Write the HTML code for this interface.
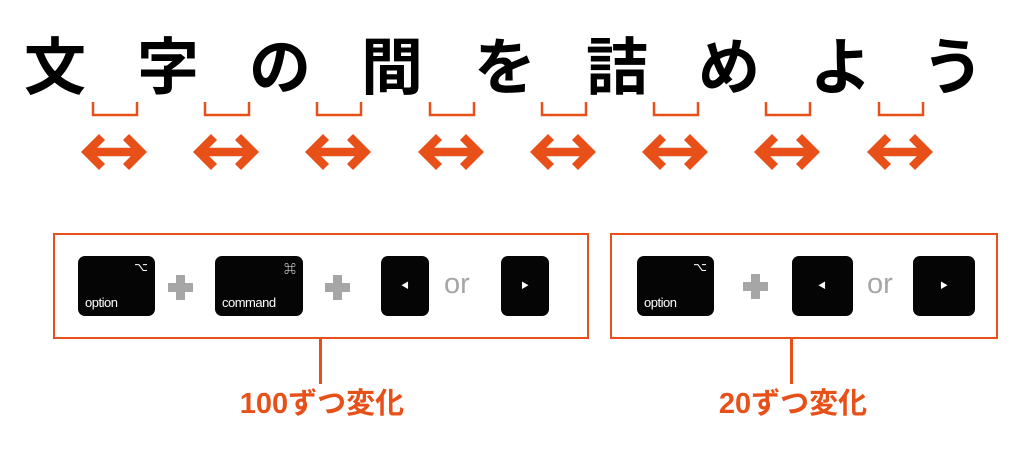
<!DOCTYPE html>
<html><head><meta charset="utf-8"><style>
body{margin:0;width:1024px;height:449px;background:#fff;position:relative;overflow:hidden;font-family:"Liberation Sans","Noto Sans CJK JP",sans-serif}
.c{position:absolute;top:22px;font-size:62px;font-weight:bold;line-height:80px;width:80px;text-align:center;font-family:"Noto Sans CJK JP",sans-serif;color:#000}
.box{position:absolute;border:2.5px solid #e8501a;box-sizing:border-box}
.k{position:absolute;background:#050505;border-radius:7px;color:#fff}
.k .t{position:absolute;left:7px;bottom:6px;font-size:13px;letter-spacing:-0.5px}
.k .s{position:absolute;right:7px;top:4px;font-size:12px}
.ph,.pv{position:absolute;background:#a6a6a6}
.or{position:absolute;top:266px;font-size:29px;color:#a6a6a6;line-height:36px}
.lab{position:absolute;font-size:29px;font-weight:bold;color:#e8501a;font-family:"Liberation Sans","Noto Sans CJK JP",sans-serif;width:260px;text-align:center;line-height:36px}
</style></head><body>
<div class="c" style="left:15px">文</div>
<div class="c" style="left:128px">字</div>
<div class="c" style="left:240px">の</div>
<div class="c" style="left:352px">間</div>
<div class="c" style="left:465px">を</div>
<div class="c" style="left:577px">詰</div>
<div class="c" style="left:689px">め</div>
<div class="c" style="left:801px">よ</div>
<div class="c" style="left:913px">う</div>
<svg width="1024" height="200" style="position:absolute;left:0;top:0">
<g fill="none" stroke="#e8501a" stroke-width="2.5">
<polyline points="93,102 93,115 137,115 137,102"/>
<polyline points="205,102 205,115 249,115 249,102"/>
<polyline points="317,102 317,115 361,115 361,102"/>
<polyline points="430,102 430,115 474,115 474,102"/>
<polyline points="542,102 542,115 586,115 586,102"/>
<polyline points="654,102 654,115 698,115 698,102"/>
<polyline points="766,102 766,115 810,115 810,102"/>
<polyline points="879,102 879,115 923,115 923,102"/>
</g>
<g fill="none" stroke="#e8501a" stroke-width="8.5" stroke-linejoin="miter">
<g transform="translate(114,152)"><path d="M-26,0H26M-12,-15L-27,0L-12,15M12,-15L27,0L12,15"/></g>
<g transform="translate(226,152)"><path d="M-26,0H26M-12,-15L-27,0L-12,15M12,-15L27,0L12,15"/></g>
<g transform="translate(338,152)"><path d="M-26,0H26M-12,-15L-27,0L-12,15M12,-15L27,0L12,15"/></g>
<g transform="translate(451,152)"><path d="M-26,0H26M-12,-15L-27,0L-12,15M12,-15L27,0L12,15"/></g>
<g transform="translate(563,152)"><path d="M-26,0H26M-12,-15L-27,0L-12,15M12,-15L27,0L12,15"/></g>
<g transform="translate(675,152)"><path d="M-26,0H26M-12,-15L-27,0L-12,15M12,-15L27,0L12,15"/></g>
<g transform="translate(787,152)"><path d="M-26,0H26M-12,-15L-27,0L-12,15M12,-15L27,0L12,15"/></g>
<g transform="translate(900,152)"><path d="M-26,0H26M-12,-15L-27,0L-12,15M12,-15L27,0L12,15"/></g>
</g>
</svg>
<div class="box" style="left:53px;top:233px;width:536px;height:106px"></div>
<div class="box" style="left:610px;top:233px;width:388px;height:106px"></div>
<div style="position:absolute;left:319px;top:338px;width:2.5px;height:46px;background:#e8501a"></div>
<div style="position:absolute;left:790px;top:338px;width:2.5px;height:46px;background:#e8501a"></div>

<div class="k" style="left:78px;top:256px;width:77px;height:60px"><span class="s">⌥</span><span class="t">option</span></div>
<div class="ph" style="left:168px;top:283px;width:25px;height:9px"></div><div class="pv" style="left:176px;top:275px;width:9px;height:25px"></div>
<div class="k" style="left:215px;top:256px;width:88px;height:60px"><span class="s">⌘</span><span class="t">command</span></div>
<div class="ph" style="left:325px;top:283px;width:25px;height:9px"></div><div class="pv" style="left:333px;top:275px;width:9px;height:25px"></div>
<div class="k" style="left:381px;top:256px;width:48px;height:60px"><span style="position:absolute;left:20px;top:24px;font-size:8px">◀</span></div>
<div class="or" style="left:444px">or</div>
<div class="k" style="left:501px;top:256px;width:48px;height:60px"><span style="position:absolute;left:20px;top:24px;font-size:8px">▶</span></div>

<div class="k" style="left:637px;top:256px;width:77px;height:60px"><span class="s">⌥</span><span class="t">option</span></div>
<div class="ph" style="left:743px;top:282px;width:25px;height:9px"></div><div class="pv" style="left:751px;top:274px;width:9px;height:25px"></div>
<div class="k" style="left:792px;top:256px;width:61px;height:60px"><span style="position:absolute;left:26px;top:24px;font-size:8px">◀</span></div>
<div class="or" style="left:867px">or</div>
<div class="k" style="left:913px;top:256px;width:62px;height:60px"><span style="position:absolute;left:27px;top:24px;font-size:8px">▶</span></div>

<div class="lab" style="left:192px;top:386px">100ずつ変化</div>
<div class="lab" style="left:663px;top:386px">20ずつ変化</div>
</body></html>
